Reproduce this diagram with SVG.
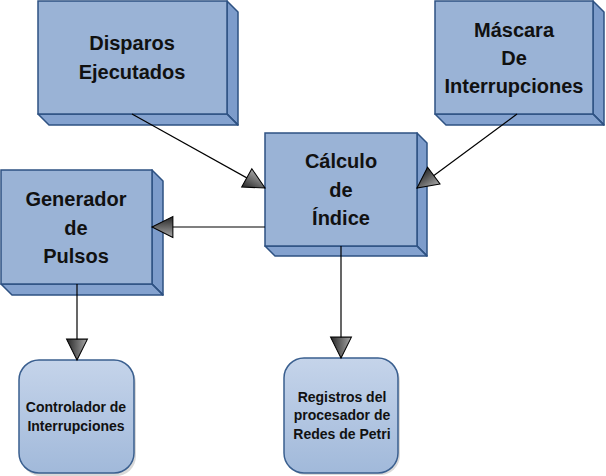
<svg xmlns="http://www.w3.org/2000/svg" width="606" height="476" viewBox="0 0 606 476">
<style>
.front{fill:#9AB3D6;stroke:#2E5283;stroke-width:1.5}
.side{fill:#7D9CCB;stroke:#2E5283;stroke-width:1.5;stroke-linejoin:round}
.bottom{fill:#84A2CF;stroke:#2E5283;stroke-width:1.5;stroke-linejoin:round}
.edge{stroke:#2E5283;stroke-width:1.2;fill:none}
.rr{fill:url(#rrg);stroke:#3A5F8F;stroke-width:1.5}
.shadow{fill:#000;opacity:0.15}
.big{font-family:"Liberation Sans",Arial,sans-serif;font-weight:bold;font-size:20px;fill:#111;text-anchor:middle}
.small{font-family:"Liberation Sans",Arial,sans-serif;font-weight:bold;font-size:14px;fill:#111;text-anchor:middle}
.conn{stroke:#000;stroke-width:1.2;fill:none}
</style>
<defs>
<linearGradient id="rrg" x1="0" y1="0" x2="0" y2="1">
<stop offset="0" stop-color="#C5D4EA"/>
<stop offset="1" stop-color="#A1B9DA"/>
</linearGradient>
<linearGradient id="ag" x1="0" y1="0" x2="0" y2="1">
<stop offset="0" stop-color="#A8A8A8"/>
<stop offset="1" stop-color="#262626"/>
</linearGradient>
<marker id="arr" markerUnits="userSpaceOnUse" markerWidth="24" markerHeight="24" viewBox="-1 -11 23 22" refX="20" refY="0" orient="auto">
<path d="M0,-10 L20,0 L0,10 Z" fill="url(#ag)" stroke="#000" stroke-width="1"/>
</marker>
</defs>

<g id="disparos">
<polygon class="side" points="227,1 238,12 238,125 227,114"/>
<polygon class="bottom" points="38,114 227,114 238,125 49,125"/>
<rect class="front" x="38" y="1" width="189" height="113"/>
<line class="edge" x1="227" y1="114" x2="238" y2="125"/>
<text class="big" x="132" y="50">Disparos</text>
<text class="big" x="132" y="79">Ejecutados</text>
</g>

<g id="mascara">
<polygon class="side" points="593,1 604,12 604,125 593,114"/>
<polygon class="bottom" points="435,114 593,114 604,125 446,125"/>
<rect class="front" x="435" y="1" width="158" height="113"/>
<line class="edge" x1="593" y1="114" x2="604" y2="125"/>
<text class="big" x="514" y="37">Máscara</text>
<text class="big" x="514" y="65">De</text>
<text class="big" x="514" y="93">Interrupciones</text>
</g>

<g id="calculo">
<polygon class="side" points="417,133 427,143 427,256 417,246"/>
<polygon class="bottom" points="265,246 417,246 427,256 275,256"/>
<rect class="front" x="265" y="133" width="152" height="113"/>
<line class="edge" x1="417" y1="246" x2="427" y2="256"/>
<text class="big" x="341" y="168">Cálculo</text>
<text class="big" x="341" y="197">de</text>
<text class="big" x="341" y="225">Índice</text>
</g>

<g id="generador">
<polygon class="side" points="152,170 163,181 163,295 152,284"/>
<polygon class="bottom" points="1,284 152,284 163,295 12,295"/>
<rect class="front" x="1" y="170" width="151" height="114"/>
<line class="edge" x1="152" y1="284" x2="163" y2="295"/>
<text class="big" x="76" y="206">Generador</text>
<text class="big" x="76" y="235">de</text>
<text class="big" x="76" y="263">Pulsos</text>
</g>

<g id="controlador">
<rect class="shadow" x="21" y="363" width="115" height="113" rx="20"/>
<rect class="rr" x="19" y="360" width="115" height="113" rx="20"/>
<text class="small" x="76" y="412">Controlador de</text>
<text class="small" x="76" y="431">Interrupciones</text>
</g>

<g id="registros">
<rect class="shadow" x="286" y="361" width="114" height="114" rx="20"/>
<rect class="rr" x="284" y="358" width="114" height="115" rx="20"/>
<text class="small" x="342" y="402">Registros del</text>
<text class="small" x="342" y="420">procesador de</text>
<text class="small" x="342" y="439">Redes de Petri</text>
</g>

<g id="connectors">
<line class="conn" x1="132" y1="114" x2="265" y2="188" marker-end="url(#arr)"/>
<line class="conn" x1="517" y1="114" x2="417" y2="188" marker-end="url(#arr)"/>
<line class="conn" x1="265" y1="227" x2="152" y2="227" marker-end="url(#arr)"/>
<line class="conn" x1="77" y1="284" x2="77" y2="360" marker-end="url(#arr)"/>
<line class="conn" x1="341" y1="246" x2="341" y2="358" marker-end="url(#arr)"/>
</g>
</svg>
